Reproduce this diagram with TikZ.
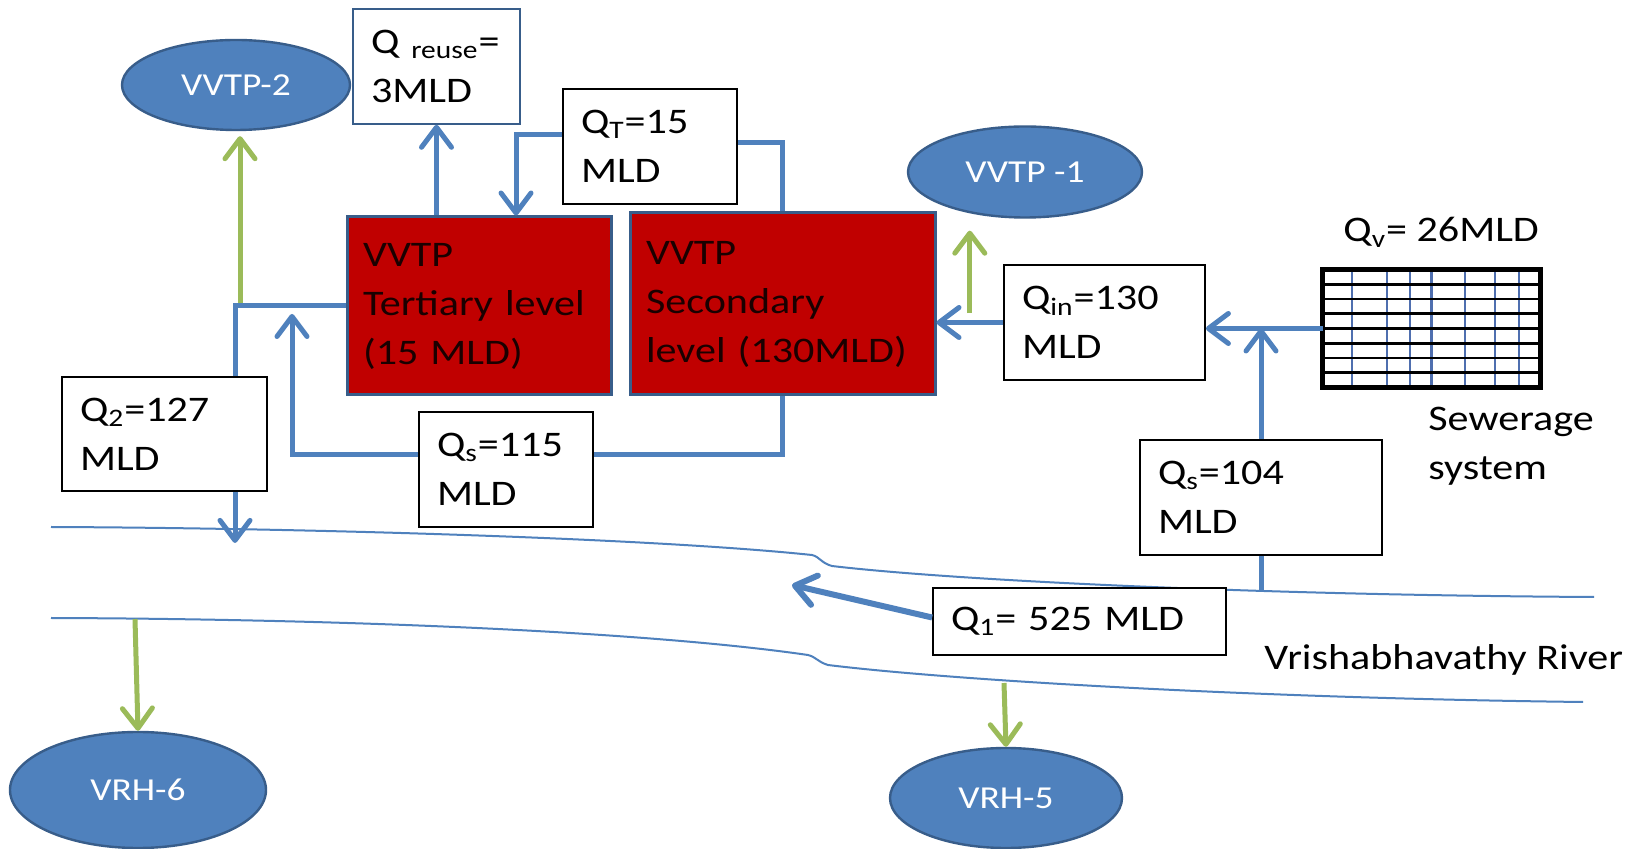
\documentclass[tikz,border=0pt]{standalone}
\usepackage{fontspec}
\setmainfont{Carlito}[FakeStretch=1.17]
\usetikzlibrary{shapes.geometric,arrows.meta,calc}
\definecolor{flowblue}{HTML}{4F81BD}
\definecolor{leafgreen}{HTML}{9BBB59}
\definecolor{edgeblue}{HTML}{385D8A}
\definecolor{plantred}{HTML}{C00000}
\definecolor{planttext}{HTML}{1A0000}
\definecolor{gridblue}{HTML}{4F6FAF}
\newcommand\boxfont{\fontsize{18pt}{24.5pt}\selectfont}
\newcommand\poolfont{\fontsize{16pt}{19pt}\selectfont}
\begin{document}
\begin{tikzpicture}[x=0.5pt,y=-0.5pt,
  qbox/.style={draw=black, line width=0.9pt, fill=white, inner xsep=9pt, inner ysep=0pt, align=left, font=\boxfont},
  plant/.style={draw=edgeblue, line width=1.5pt, fill=plantred, inner xsep=8pt, inner ysep=0pt, align=left, font=\boxfont, text=planttext},
  pool/.style={ellipse, draw=edgeblue, line width=1.2pt, fill=flowblue, text=white, font=\poolfont, inner sep=0pt},
  flow/.style={draw=flowblue, line width=2.5pt},
  flowarr/.style={flow, -{Straight Barb[length=10pt,width=15pt,round]}},
  greenarr/.style={draw=leafgreen, line width=2.5pt, -{Straight Barb[length=10pt,width=15pt,round]}},
  bank/.style={draw=flowblue, line width=1pt},
  plaintext/.style={font=\boxfont, inner sep=0pt}
]
\fill[white] (0,0) rectangle (1645,849);
\useasboundingbox (0,0) rectangle (1645,849);

% river banks
\draw[bank] (51,527) .. controls (300,528) and (650,538) .. (812,555)
  .. controls (820,557) and (821,563) .. (832,566)
  .. controls (950,580) and (1250,595) .. (1594,597);
\draw[bank] (51,618) .. controls (350,619) and (650,632) .. (808,655)
  .. controls (816,657) and (818,662) .. (828,665)
  .. controls (950,680) and (1250,698) .. (1583,702);

% reservoirs / abstraction points
\node[pool, minimum width=114pt, minimum height=45pt] (vvtp2) at (236,85) {VVTP-2};
\node[pool, minimum width=117pt, minimum height=45.5pt] (vvtp1) at (1025,172) {VVTP -1};
\node[pool, minimum width=128pt, minimum height=58pt] (vrh6) at (138,790) {VRH-6};
\node[pool, minimum width=116pt, minimum height=50pt] (vrh5) at (1006,798) {VRH-5};

% treatment plants
\node[plant, text width=116pt, minimum height=89pt] (tert) at (479,306) {VVTP\\Tertiary level\\(15 MLD)};
\node[plant, text width=136.5pt, minimum height=91pt] (sec) at (782.5,304) {VVTP\\Secondary\\level (130MLD)};

% flow labels
\node[qbox, draw=edgeblue, line width=0.8pt, text width=65.5pt, minimum height=57.5pt] (qreuse) at (436.5,66.5) {Q \textsubscript{reuse}=\\3MLD};
\node[qbox, text width=69pt, minimum height=57.5pt] (qt) at (650,146.5) {Q\textsubscript{T}=15\\MLD};
\node[qbox, text width=82.5pt, minimum height=57.5pt] (qin) at (1104.5,322.5) {Q\textsubscript{in}=130\\MLD};
\node[qbox, text width=84.5pt, minimum height=57pt] (q2) at (164.5,434) {Q\textsubscript{2}=127\\MLD};
\node[qbox, text width=69pt, minimum height=57.5pt] (qs115) at (506,469.5) {Q\textsubscript{s}=115\\MLD};
\node[qbox, text width=103pt, minimum height=57.5pt] (qs104) at (1261,497.5) {Q\textsubscript{s}=104\\MLD};
\node[qbox, text width=128.5pt, minimum height=33.5pt] (q1) at (1079.5,621.5) {Q\textsubscript{1}= 525 MLD};

% sewerage network grid
\node[inner sep=0pt, minimum width=108.5pt, minimum height=58.5pt] (grid) at (1431.5,328.5) {};
\foreach \f in {0.135,0.295,0.400,0.500,0.654,0.792,0.900}
  \draw[gridblue, line width=1.1pt] ($(grid.south west)!\f!(grid.south east)$) -- ($(grid.north west)!\f!(grid.north east)$);
\foreach \k in {1,...,7}
  \draw[black, line width=1.4pt] ($(grid.south west)!\k/8!(grid.north west)$) -- ($(grid.south east)!\k/8!(grid.north east)$);
\draw[black, line width=2.2pt] (grid.south west) rectangle (grid.north east);

% free text
\node[plaintext, anchor=base west] (qvlabel) at (1343,242) {Q\textsubscript{v}= 26MLD};
\node[plaintext, anchor=north west, align=left] (sewlabel) at (1428,407) {Sewerage\\system};
\node[plaintext, anchor=base west] (rivlabel) at (1264,670) {Vrishabhavathy River};

% connectors
\coordinate (c2) at (235,306);
\coordinate (g2) at (240,306);
\draw[greenarr] (g2) -- ($(g2 |- vvtp2.south)+(0,5)$);
\draw[flow] (tert.west) -- (c2) -- (c2 |- q2.north);
\draw[flowarr] (c2 |- q2.south) -- ++(0,51);
\draw[flowarr] (qreuse.south |- tert.north) -- (qreuse.south);
\draw[flowarr] ([yshift=6pt]qt.west) -| ($(tert.north)+(37,0)$);
\draw[flow] (sec.north) |- ([yshift=1.75pt]qt.east);
\coordinate (loopR) at (sec.south |- 0,455);
\coordinate (loopL) at (292,455);
\draw[flow] (sec.south) -- (loopR) -- (loopR -| qs115.east);
\draw[flowarr] (loopR -| qs115.west) -- (loopL) -- ($(loopL |- c2)+(0,8)$);
\draw[flowarr] (grid.west) -- (grid.west -| qin.east);
\draw[flowarr] (qs104.north) -- (qs104.north |- grid.west);
\coordinate (gj) at ($(qin.west)!0.5!(sec.east)$);
\draw[greenarr] (gj) -- ($(gj |- vvtp1.south)+(0,12)$);
\draw[flowarr] (qin.west) -- (qin.west -| sec.east);
\draw[flow] (qs104.south) -- ++(0,36);
\coordinate (q1tip) at (792,585);
\draw[flowarr, line width=3pt] ([yshift=2pt]q1.west) -- (q1tip);
\coordinate (r6) at (135,619);
\draw[greenarr] (r6) -- (vrh6.north);
\coordinate (r5) at (1004,683);
\draw[greenarr] (r5) -- (vrh5.north);
\end{tikzpicture}
\end{document}
